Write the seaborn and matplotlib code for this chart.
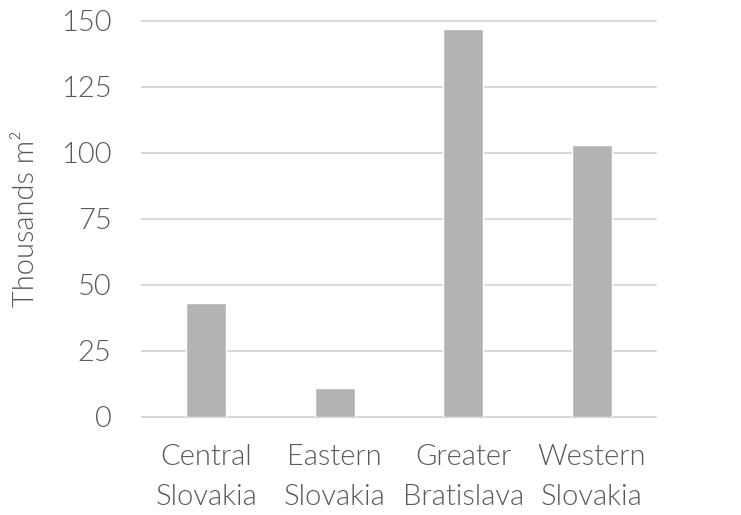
import matplotlib
matplotlib.use("Agg")
import matplotlib.pyplot as plt
import seaborn as sns
import pandas as pd

regions = ["Central\nSlovakia", "Eastern\nSlovakia", "Greater\nBratislava", "Western\nSlovakia"]
area_thousands_m2 = [43, 11, 147, 103]
y_ticks = [0, 25, 50, 75, 100, 125, 150]

df = pd.DataFrame({"region": regions, "area": area_thousands_m2})

sns.set_theme(style="white")
plt.rcParams["font.family"] = ["Lato", "DejaVu Sans"]
plt.rcParams["font.weight"] = 300

text_color = "#595959"
fig = plt.figure(figsize=(7.41, 5.15), dpi=100)
ax = fig.add_axes([0.1916, 0.191, 0.6935, 0.769])

sns.barplot(data=df, x="region", y="area", color="#b2b3b5", width=0.31,
            saturation=1, ax=ax, zorder=3)

ax.set_ylim(0, 150)
ax.set_yticks(y_ticks)
ax.set_yticklabels([str(t) for t in y_ticks])
ax.yaxis.grid(True, color="#d9d9d9", linewidth=1.5, zorder=0)
ax.xaxis.grid(False)
for gl in ax.get_ygridlines():
    gl.set_clip_on(False)
for s in ax.spines.values():
    s.set_visible(False)

ax.tick_params(axis="y", length=0, pad=22, labelsize=21, labelcolor=text_color)
ax.tick_params(axis="x", length=0, pad=20, labelsize=21, labelcolor=text_color)
for lbl in ax.get_xticklabels() + ax.get_yticklabels():
    lbl.set_fontweight(300)
for lbl in ax.get_xticklabels():
    lbl.set_linespacing(1.65)

ax.set_xlabel("")
ax.set_ylabel("Thousands m²", fontsize=21, color=text_color, labelpad=16,
              fontweight=300)

fig.savefig("out.png", dpi=100, facecolor="white")
